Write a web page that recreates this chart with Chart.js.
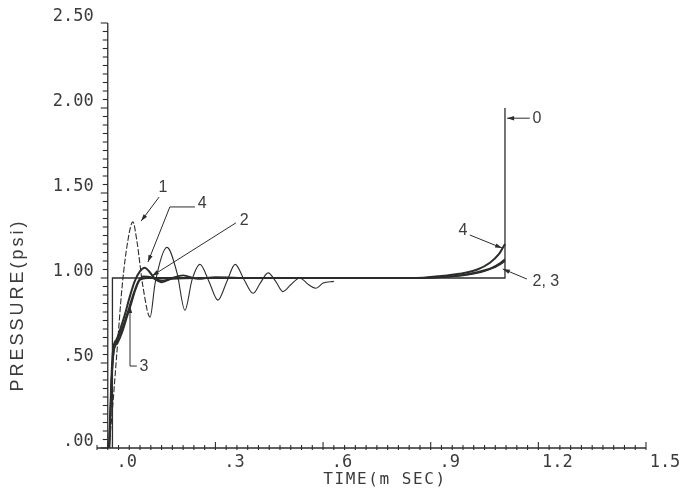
<!DOCTYPE html>
<html>
<head>
<meta charset="utf-8">
<script src="https://cdn.jsdelivr.net/npm/chart.js@4"></script>
<style>
  html, body { margin: 0; padding: 0; background: #ffffff; }
  #wrap { width: 680px; height: 493px; }
</style>
</head>
<body>
<div id="wrap"><canvas id="c" width="680" height="493"></canvas></div>
<script>
// Axis ticks and their labels
const xMajorTicks = [0, 0.3, 0.6, 0.9, 1.2, 1.5];
const xTickLabels = ['.0', '.3', '.6', '.9', '1.2', '1.5'];
const yMajorTicks = [0, 0.5, 1.0, 1.5, 2.0, 2.5];
const yTickLabels = ['.00', '.50', '1.00', '1.50', '2.00', '2.50'];

// Curve 0: applied step pressure
const curve0Time     = [0.013, 0.013, 1.107, 1.107];
const curve0Pressure = [0.0,   1.0,   1.0,   2.0];

// Curve 1: lightly damped response
const curve1Time = [0.003, 0.012, 0.025, 0.04, 0.056, 0.07, 0.081, 0.098, 0.118, 0.132,
  0.165, 0.193, 0.215, 0.235, 0.257, 0.282, 0.307, 0.332, 0.355, 0.38, 0.405, 0.425,
  0.447, 0.468, 0.488, 0.51, 0.535, 0.56, 0.58, 0.6, 0.63];
const curve1Pressure = [0.0, 0.2, 0.55, 0.95, 1.22, 1.33, 1.22, 0.95, 0.77, 0.97,
  1.18, 1.03, 0.81, 0.99, 1.08, 0.98, 0.87, 0.98, 1.08, 0.99, 0.91, 0.97,
  1.03, 0.98, 0.92, 0.96, 1.0, 0.96, 0.94, 0.97, 0.98];

// Curve 2
const curve2Time = [0.004, 0.011, 0.016, 0.026, 0.036, 0.048, 0.06, 0.072, 0.085, 0.1, 0.12,
  0.15, 0.18, 0.21, 0.25, 0.3, 0.4, 0.6, 0.85, 0.93, 0.98, 1.03, 1.07, 1.095, 1.107];
const curve2Pressure = [0.0, 0.4, 0.56, 0.63, 0.68, 0.75, 0.83, 0.91, 0.98, 1.01, 1.005,
  0.975, 1.0, 1.015, 0.995, 1.005, 1.0, 1.0, 1.0, 1.005, 1.015, 1.035, 1.06, 1.09, 1.11];

// Curve 3
const curve3Time = [0.004, 0.012, 0.017, 0.028, 0.04, 0.052, 0.064, 0.077, 0.09, 0.11,
  0.2, 0.5, 0.85, 0.93, 0.99, 1.04, 1.075, 1.1, 1.107];
const curve3Pressure = [0.0, 0.45, 0.57, 0.62, 0.68, 0.76, 0.84, 0.93, 0.99, 1.0,
  1.0, 1.0, 1.0, 1.005, 1.015, 1.035, 1.06, 1.09, 1.1];

// Curve 4
const curve4Time = [0.004, 0.01, 0.015, 0.025, 0.035, 0.047, 0.06, 0.075, 0.09, 0.103,
  0.115, 0.13, 0.15, 0.18, 0.25, 0.6, 0.86, 0.92, 0.98, 1.03, 1.065, 1.09, 1.107];
const curve4Pressure = [0.0, 0.4, 0.58, 0.64, 0.7, 0.78, 0.88, 0.98, 1.04, 1.06,
  1.04, 1.0, 0.985, 0.995, 1.0, 1.0, 1.0, 1.01, 1.025, 1.05, 1.09, 1.14, 1.2];

// Curve labels with leader lines (data coordinates)
const curveLabels = [
  { text: '0',    at: [1.196, 1.94],  leader: [[1.176, 1.94], [1.113, 1.94]] },
  { text: '1',    at: [0.154, 1.53],  leader: [[0.143, 1.476], [0.093, 1.335]] },
  { text: '4',    at: [0.263, 1.44],  leader: [[0.243, 1.418], [0.173, 1.418], [0.112, 1.094]] },
  { text: '2',    at: [0.380, 1.34],  leader: [[0.357, 1.324], [0.123, 1.012]] },
  { text: '3',    at: [0.101, 0.48],  leader: [[0.081, 0.482], [0.062, 0.482], [0.062, 0.835]] },
  { text: '4',    at: [0.99, 1.28],   leader: [[1.009, 1.253], [1.099, 1.176]] },
  { text: '2, 3', at: [1.221, 0.98],  leader: [[1.168, 0.994], [1.101, 1.053]] }
];

const INK = '#2b2d2b';
const TEXT = '#3a3c3a';

function pts(t, p) { return t.map((v, i) => ({ x: v, y: p[i] })); }

const axesPlugin = {
  id: 'plotterAxes',
  beforeDatasetsDraw(chart) {
    const { ctx, scales: { x, y } } = chart;
    const x0 = x.getPixelForValue(0);
    const yBase = y.getPixelForValue(0);
    ctx.save();
    ctx.strokeStyle = INK;
    ctx.lineWidth = 1.3;
    // x axis line
    ctx.beginPath();
    ctx.moveTo(x.getPixelForValue(x.min), yBase);
    ctx.lineTo(x.getPixelForValue(x.max), yBase);
    ctx.stroke();
    // y axis line at t = 0
    ctx.beginPath();
    ctx.moveTo(x0, y.getPixelForValue(y.max));
    ctx.lineTo(x0, yBase);
    ctx.stroke();
    ctx.lineWidth = 1.1;
    // x ticks every 0.03
    for (let i = -1; i <= 50; i++) {
      const v = i * 0.03;
      const px = x.getPixelForValue(v);
      const major = i % 10 === 0;
      ctx.beginPath();
      ctx.moveTo(px, yBase + 2);
      ctx.lineTo(px, yBase - (major ? 6 : 3));
      ctx.stroke();
    }
    // y ticks every 0.05
    for (let i = 0; i <= 50; i++) {
      const v = i * 0.05;
      const py = y.getPixelForValue(v);
      const major = i % 10 === 0;
      ctx.beginPath();
      ctx.moveTo(x0, py);
      ctx.lineTo(x0 - (major ? 7 : 5), py);
      ctx.stroke();
    }
    // tick labels
    ctx.fillStyle = TEXT;
    ctx.font = '17px "DejaVu Sans Mono"';
    ctx.textBaseline = 'middle';
    ctx.textAlign = 'right';
    yMajorTicks.forEach((v, i) => {
      ctx.fillText(yTickLabels[i], x0 - 14, y.getPixelForValue(v) - 6);
    });
    ctx.textAlign = 'center';
    xMajorTicks.forEach((v, i) => {
      ctx.fillText(xTickLabels[i], x.getPixelForValue(v) + 19, yBase + 15);
    });
    // axis titles
    ctx.font = '16px "DejaVu Sans Mono"';
    ctx.letterSpacing = '1.6px';
    ctx.fillText('TIME(m SEC)', 385, 480);
    ctx.save();
    ctx.translate(18, 305);
    ctx.rotate(-Math.PI / 2);
    ctx.font = '18px "Liberation Sans"';
    ctx.letterSpacing = '3px';
    ctx.fillText('PRESSURE(psi)', 0, 0);
    ctx.restore();
    ctx.restore();
  },
  afterDatasetsDraw(chart) {
    const { ctx, scales: { x, y } } = chart;
    ctx.save();
    ctx.strokeStyle = INK;
    ctx.fillStyle = INK;
    ctx.lineWidth = 1;
    curveLabels.forEach(lab => {
      const path = lab.leader.map(([t, p]) => [x.getPixelForValue(t), y.getPixelForValue(p)]);
      ctx.beginPath();
      path.forEach(([px, py], k) => (k ? ctx.lineTo(px, py) : ctx.moveTo(px, py)));
      ctx.stroke();
      const [ax, ay] = path[path.length - 1];
      const [bx, by] = path[path.length - 2];
      const ang = Math.atan2(ay - by, ax - bx);
      ctx.beginPath();
      ctx.moveTo(ax, ay);
      ctx.lineTo(ax - 7 * Math.cos(ang) + 2.2 * Math.sin(ang), ay - 7 * Math.sin(ang) - 2.2 * Math.cos(ang));
      ctx.lineTo(ax - 7 * Math.cos(ang) - 2.2 * Math.sin(ang), ay - 7 * Math.sin(ang) + 2.2 * Math.cos(ang));
      ctx.closePath();
      ctx.fill();
      ctx.font = '16px "Liberation Sans"';
      ctx.textAlign = 'center';
      ctx.textBaseline = 'middle';
      ctx.fillStyle = TEXT;
      ctx.fillText(lab.text, x.getPixelForValue(lab.at[0]), y.getPixelForValue(lab.at[1]));
      ctx.fillStyle = INK;
    });
    ctx.restore();
  }
};

const lineBase = { pointRadius: 0, fill: false, borderColor: INK, clip: false };

new Chart(document.getElementById('c'), {
  type: 'line',
  data: {
    datasets: [
      Object.assign({ label: '0', data: pts(curve0Time, curve0Pressure), borderWidth: 1.3, tension: 0 }, lineBase),
      Object.assign({
        label: '1', data: pts(curve1Time, curve1Pressure), borderWidth: 1.1,
        cubicInterpolationMode: 'monotone',
        segment: { borderDash: c => (c.p0.parsed.x < 0.118 ? [6, 2] : undefined) }
      }, lineBase),
      Object.assign({ label: '2', data: pts(curve2Time, curve2Pressure), borderWidth: 1.8, cubicInterpolationMode: 'monotone' }, lineBase),
      Object.assign({ label: '3', data: pts(curve3Time, curve3Pressure), borderWidth: 1.8, cubicInterpolationMode: 'monotone' }, lineBase),
      Object.assign({ label: '4', data: pts(curve4Time, curve4Pressure), borderWidth: 2.0, cubicInterpolationMode: 'monotone' }, lineBase)
    ]
  },
  options: {
    responsive: false,
    animation: false,
    devicePixelRatio: 1,
    layout: { padding: { left: 97, right: 34, top: 23, bottom: 45 } },
    plugins: { legend: { display: false }, tooltip: { enabled: false } },
    scales: {
      x: { type: 'linear', min: -0.03, max: 1.5, display: false },
      y: { type: 'linear', min: 0, max: 2.5, display: false }
    }
  },
  plugins: [axesPlugin]
});
</script>
</body>
</html>
